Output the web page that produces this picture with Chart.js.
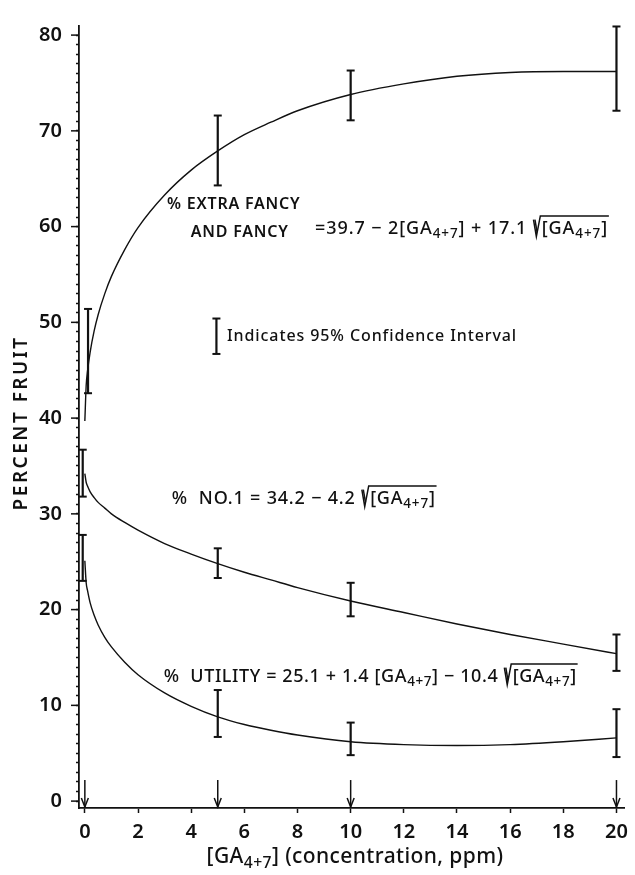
<!DOCTYPE html>
<html lang="en">
<head>
    <meta charset="UTF-8">
    <title>Percent Fruit vs GA4+7</title>
    <script src="https://cdn.jsdelivr.net/npm/chart.js@4.4.1/dist/chart.umd.min.js"></script>
</head>
<style>
    html, body {
        margin: 0;
        padding: 0;
        background-color: #ffffff;
    }

    .container {
        width: 635px;
        height: 875px;
    }
</style>
<body>
    <div class="container">
        <canvas id="fruitChart" width="635" height="875"></canvas>
    </div>

    <script>
        // fitted curves
        const curveX = [0, 0.05, 0.1, 0.2, 0.35, 0.5, 0.75, 1, 1.5, 2, 3, 4, 5, 6, 7, 8, 10, 12, 14, 16, 18, 20];
        const fancyCurve = [39.7, 43.4, 44.9, 46.9, 49.1, 50.8, 53.0, 54.8, 57.6, 59.9, 63.3, 65.9, 67.9, 69.6, 70.9, 72.1, 73.8, 74.9, 75.7, 76.1, 76.2, 76.2];
        const no1Curve = [34.2, 33.3, 32.9, 32.3, 31.7, 31.2, 30.6, 30.0, 29.1, 28.3, 26.9, 25.8, 24.8, 23.9, 23.1, 22.3, 20.9, 19.7, 18.5, 17.4, 16.4, 15.4];
        const utilityCurve = [25.1, 22.8, 22.0, 20.7, 19.4, 18.4, 17.1, 16.1, 14.5, 13.2, 11.3, 9.9, 8.8, 8.0, 7.4, 6.9, 6.2, 5.9, 5.8, 5.9, 6.2, 6.6];

        // 95% confidence intervals at the applied rates
        const rateX = [0, 5, 10, 20];
        const fancyBarX = [0.12, 5, 10, 20];
        const fancyLow = [42.6, 64.3, 71.1, 72.1];
        const fancyHigh = [51.4, 71.6, 76.3, 80.9];
        const otherBarX = [-0.08, 5, 10, 20];
        const no1Low = [31.8, 23.3, 19.3, 13.6];
        const no1High = [36.7, 26.4, 22.8, 17.4];
        const utilityLow = [23.0, 6.7, 4.8, 4.6];
        const utilityHigh = [27.8, 11.6, 8.2, 9.6];

        // sample bar used in the key
        const keyBarX = [4.95];
        const keyLow = [46.7];
        const keyHigh = [50.4];

        const xTickLabels = [0, 2, 4, 6, 8, 10, 12, 14, 16, 18, 20];
        const yTickLabels = [0, 10, 20, 30, 40, 50, 60, 70, 80];

        const FONT = "'Noto Sans', 'DejaVu Sans', sans-serif";
        const INK = '#111111';

        function curvePoints(values) {
            return curveX.map((x, i) => ({ x: x, y: values[i] }));
        }

        function barPoints(xs, lows, highs) {
            const pts = [];
            xs.forEach((x, i) => {
                pts.push({ x: x, y: lows[i] }, { x: x, y: highs[i] }, { x: x, y: null });
            });
            return pts;
        }

        function curveSet(values) {
            return {
                data: curvePoints(values),
                borderColor: INK,
                borderWidth: 1.4,
                pointRadius: 0,
                cubicInterpolationMode: 'monotone',
                fill: false
            };
        }

        function barSet(xs, lows, highs) {
            return {
                data: barPoints(xs, lows, highs),
                borderColor: INK,
                borderWidth: 2.2,
                pointStyle: 'line',
                pointRadius: 4,
                pointBorderWidth: 2,
                pointBorderColor: INK,
                spanGaps: false,
                clip: false,
                fill: false
            };
        }

        // text with subscripts and a radical
        function partWidth(ctx, parts, size, weight) {
            let w = 0;
            parts.forEach(p => {
                if (typeof p === 'string') {
                    ctx.font = weight + ' ' + size + 'px ' + FONT;
                    w += ctx.measureText(p).width;
                } else if (p.sub) {
                    ctx.font = weight + ' ' + (size * 0.75) + 'px ' + FONT;
                    w += ctx.measureText(p.sub).width;
                } else if (p.root) {
                    w += size * 0.5 + partWidth(ctx, p.root, size, weight) + size * 0.05;
                }
            });
            return w;
        }

        function drawParts(ctx, parts, x, y, size, weight) {
            let cx = x;
            parts.forEach(p => {
                if (typeof p === 'string') {
                    ctx.font = weight + ' ' + size + 'px ' + FONT;
                    ctx.fillText(p, cx, y);
                    cx += ctx.measureText(p).width;
                } else if (p.sub) {
                    ctx.font = weight + ' ' + (size * 0.75) + 'px ' + FONT;
                    ctx.fillText(p.sub, cx, y + size * 0.33);
                    cx += ctx.measureText(p.sub).width;
                } else if (p.root) {
                    const inner = partWidth(ctx, p.root, size, weight);
                    const top = y - size * 0.7;
                    ctx.lineWidth = 1.5;
                    ctx.beginPath();
                    ctx.moveTo(cx + size * 0.04, y - size * 0.5);
                    ctx.lineTo(cx + size * 0.2, y + size * 0.45);
                    ctx.lineTo(cx + size * 0.42, top);
                    ctx.lineTo(cx + size * 0.5 + inner + size * 0.05, top);
                    ctx.stroke();
                    ctx.beginPath();
                    ctx.moveTo(cx + size * 0.12, y - size * 0.5);
                    ctx.lineTo(cx + size * 0.24, y + size * 0.2);
                    ctx.stroke();
                    drawParts(ctx, p.root, cx + size * 0.5, y, size, weight);
                    cx += size * 0.5 + inner + size * 0.05;
                }
            });
            return cx;
        }

        const GA = ['[GA', { sub: '4+7' }, ']'];

        const figureText = {
            id: 'figureText',
            afterDraw(chart) {
                const { ctx, chartArea } = chart;
                const x = chart.scales.x;
                const y = chart.scales.y;
                ctx.save();
                ctx.fillStyle = INK;
                ctx.strokeStyle = INK;
                ctx.textBaseline = 'middle';
                ctx.textAlign = 'left';

                // longer ticks at the labelled values
                ctx.lineWidth = 1.5;
                yTickLabels.forEach(v => {
                    const py = y.getPixelForValue(v);
                    ctx.beginPath();
                    ctx.moveTo(chartArea.left - 8, py);
                    ctx.lineTo(chartArea.left, py);
                    ctx.stroke();
                });

                // arrows at the applied rates
                rateX.forEach(v => {
                    const px = x.getPixelForValue(v);
                    const top = y.getPixelForValue(2.2);
                    const bot = chartArea.bottom - 1;
                    ctx.lineWidth = 1.5;
                    ctx.beginPath();
                    ctx.moveTo(px, top);
                    ctx.lineTo(px, bot);
                    ctx.stroke();
                    ctx.beginPath();
                    ctx.moveTo(px - 3.5, bot - 9);
                    ctx.lineTo(px, bot);
                    ctx.lineTo(px + 3.5, bot - 9);
                    ctx.stroke();
                });

                // axis titles
                ctx.save();
                ctx.translate(22, y.getPixelForValue(39.5));
                ctx.rotate(-Math.PI / 2);
                ctx.textAlign = 'center';
                ctx.font = '600 19px ' + FONT;
                ctx.letterSpacing = '2.5px';
                ctx.fillText('PERCENT FRUIT', 0, 0);
                ctx.restore();

                ctx.letterSpacing = '0.4px';
                const xTitle = GA.concat([' (concentration, ppm)']);
                const xtw = partWidth(ctx, xTitle, 21, '500');
                drawParts(ctx, xTitle, 355 - xtw / 2, 857, 21, '500');

                // equation labels
                ctx.letterSpacing = '0.8px';
                ctx.font = '600 16px ' + FONT;
                ctx.fillText('% EXTRA FANCY', x.getPixelForValue(3.09), y.getPixelForValue(62.3));
                ctx.fillText('AND FANCY', x.getPixelForValue(3.98), y.getPixelForValue(59.4));

                ctx.letterSpacing = '0.9px';
                drawParts(ctx, ['=39.7 \u2212 2'].concat(GA, [' + 17.1 ', { root: GA }]),
                    x.getPixelForValue(8.66), y.getPixelForValue(59.8), 18, '500');

                ctx.letterSpacing = '0.8px';
                drawParts(ctx, ['%  NO.1 = 34.2 \u2212 4.2 ', { root: GA }],
                    x.getPixelForValue(3.27), y.getPixelForValue(31.6), 18, '500');

                ctx.letterSpacing = '0.6px';
                drawParts(ctx, ['%  UTILITY = 25.1 + 1.4 '].concat(GA, [' \u2212 10.4 ', { root: GA }]),
                    x.getPixelForValue(2.97), y.getPixelForValue(13.0), 18, '500');

                ctx.font = '500 16px ' + FONT;
                ctx.letterSpacing = '0.9px';
                ctx.fillText('Indicates 95% Confidence Interval', x.getPixelForValue(5.35), y.getPixelForValue(48.5));

                ctx.restore();
            }
        };

        const ctx = document.getElementById('fruitChart').getContext('2d');

        new Chart(ctx, {
            type: 'line',
            data: {
                datasets: [
                    curveSet(fancyCurve),
                    curveSet(no1Curve),
                    curveSet(utilityCurve),
                    barSet(fancyBarX, fancyLow, fancyHigh),
                    barSet(otherBarX, no1Low, no1High),
                    barSet(otherBarX, utilityLow, utilityHigh),
                    barSet(keyBarX, keyLow, keyHigh)
                ]
            },
            options: {
                responsive: false,
                animation: false,
                layout: {
                    padding: { left: 0, top: 16, right: 4, bottom: 0 }
                },
                plugins: {
                    legend: { display: false },
                    tooltip: { enabled: false }
                },
                scales: {
                    x: {
                        type: 'linear',
                        min: -0.22,
                        max: 20.3,
                        afterBuildTicks: scale => {
                            scale.ticks = xTickLabels.map(v => ({ value: v }));
                        },
                        afterFit: scale => {
                            scale.height = 67;
                        },
                        border: { display: true, color: INK, width: 1.8 },
                        grid: {
                            drawOnChartArea: false,
                            drawTicks: true,
                            tickLength: 5,
                            tickColor: INK,
                            tickWidth: 1.5
                        },
                        ticks: {
                            color: INK,
                            font: { family: FONT, size: 20, weight: '600' },
                            padding: 7,
                            maxRotation: 0,
                            autoSkip: false
                        }
                    },
                    y: {
                        type: 'linear',
                        min: -0.72,
                        max: 80.95,
                        afterBuildTicks: scale => {
                            const ticks = [];
                            for (let v = 0; v <= 80; v++) {
                                ticks.push({ value: v });
                            }
                            scale.ticks = ticks;
                        },
                        afterFit: scale => {
                            scale.width = 79;
                        },
                        border: { display: true, color: INK, width: 1.8 },
                        grid: {
                            drawOnChartArea: false,
                            drawTicks: true,
                            tickLength: 3,
                            tickColor: INK,
                            tickWidth: 1.5
                        },
                        ticks: {
                            color: INK,
                            font: { family: FONT, size: 20, weight: '600' },
                            padding: 14,
                            autoSkip: false,
                            callback: v => (yTickLabels.includes(v) ? String(v) : '')
                        }
                    }
                }
            },
            plugins: [figureText]
        });
    </script>
</body>
</html>
